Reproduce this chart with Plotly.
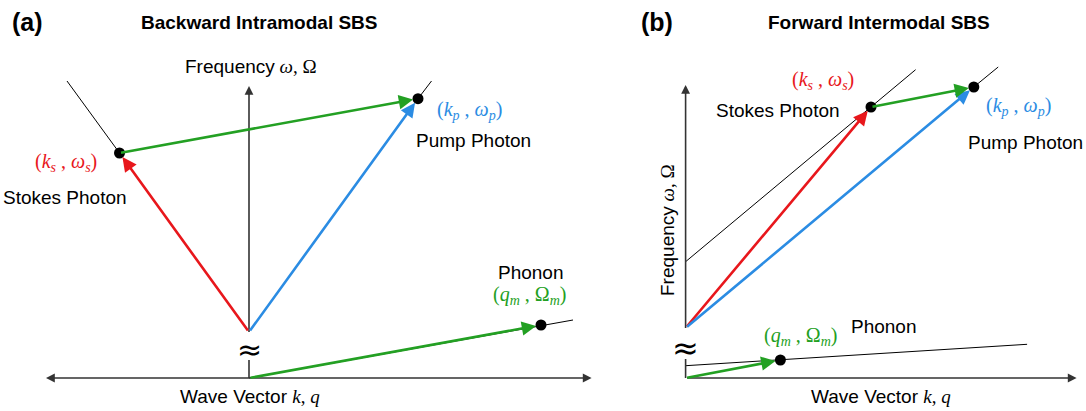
import plotly.graph_objects as go

# ---------------- data (abstract k / omega units) ----------------
# Panel (a): backward intramodal SBS
a_photon_origin = [0, 46]
a_stokes = [-129.5, 225]
a_pump = [169, 279.3]
a_stokes_branch_end = [-182, 297]
a_pump_branch_end = [182.5, 297]
a_phonon = [292, 53]
a_phonon_branch_end = [324, 58]
a_k_axis = [-204.5, 342.6]
a_w_axis_top = 292
a_break = [18, 46]

# Panel (b): forward intermodal SBS
b_photon_origin = [0, 50]
b_stokes = [185.4, 271]
b_pump = [288.2, 291]
b_stokes_branch = [[0, 116.3], [230, 308.3]]
b_pump_branch_end = [312.6, 311]
b_phonon_branch = [[0, 12.3], [341.5, 33.7]]
b_phonon = [94.8, 18]
b_k_axis = [0, 391]
b_w_axis_top = 293
b_break = [19, 50]

RED = "#e8171c"
BLUE = "#2b8ce3"
GREEN = "#23a023"
AX = "#333333"
SANS = "Liberation Sans, Arial, sans-serif"
SERIF = "Liberation Serif, Times New Roman, serif"

W, H = 1086, 411

fig = go.Figure()

def line(xs, ys, ax, color="black", width=1.0):
    fig.add_trace(go.Scatter(x=xs, y=ys, mode="lines", xaxis=ax[0], yaxis=ax[1],
                             line=dict(color=color, width=width), hoverinfo="skip",
                             showlegend=False))

def dots(pts, ax):
    fig.add_trace(go.Scatter(x=[p[0] for p in pts], y=[p[1] for p in pts], mode="markers",
                             xaxis=ax[0], yaxis=ax[1], marker=dict(color="black", size=11),
                             hoverinfo="skip", showlegend=False, cliponaxis=False))

annotations = []

def arrow(tail, head, ax, color, width=2.6, standoff=5, size=1.1, side="end", head_style=2):
    annotations.append(dict(x=head[0], y=head[1], ax=tail[0], ay=tail[1],
                            xref=ax[0], yref=ax[1], axref=ax[0], ayref=ax[1],
                            showarrow=True, arrowhead=head_style, arrowsize=size,
                            arrowwidth=width, arrowcolor=color, standoff=standoff,
                            startstandoff=0, arrowside=side, text=""))

def label(x, y, text, ax, color="black", size=19, family=SANS, angle=0):
    annotations.append(dict(x=x, y=y, xref=ax[0], yref=ax[1], text=text, showarrow=False,
                            font=dict(color=color, size=size, family=family),
                            xanchor="center", yanchor="middle", textangle=angle))

def math(sym1, sub1, sym2, sub2, italic2=True):
    s2 = f"<i>{sym2}</i>" if italic2 else sym2
    return f"(<i>{sym1}<sub>{sub1}</sub></i> , {s2}<sub><i>{sub2}</i></sub>)"

A = ("x", "y")
B = ("x2", "y2")

FREQ = "Frequency" + f"<span style='font-family:{SERIF}'> <i>ω</i>, Ω</span>"
WAVE = "Wave Vector " + f"<span style='font-family:{SERIF}'><i>k</i>, <i>q</i></span>"

# ---------- panel (a) ----------
line([a_stokes[0], a_stokes_branch_end[0]], [a_stokes[1], a_stokes_branch_end[1]], A)
line([a_pump[0], a_pump_branch_end[0]], [a_pump[1], a_pump_branch_end[1]], A)
line([0, a_phonon_branch_end[0]], [0, a_phonon_branch_end[1]], A)
line([0, 0], [0, a_break[0]], A, AX, 1.6)
line([0, 0], [a_break[1], a_w_axis_top - 4], A, AX, 1.6)
arrow([0, a_w_axis_top - 10], [0, a_w_axis_top], A, AX, width=1.6, standoff=0, size=1.1)
arrow([a_k_axis[0], 0], [a_k_axis[1], 0], A, AX, width=1.6, standoff=0, size=1.1, side="end+start")
arrow(a_photon_origin, a_stokes, A, RED)
arrow(a_photon_origin, a_pump, A, BLUE)
arrow(a_stokes, a_pump, A, GREEN)
arrow([0, 0], a_phonon, A, GREEN)
dots([a_stokes, a_pump, a_phonon], A)

label(2, 312, FREQ, A)
label(-183, 216, math("k", "s", "ω", "s"), A, RED, 20, SERIF)
label(-184, 181, "Stokes Photon", A)
label(220, 268, math("k", "p", "ω", "p"), A, BLUE, 20, SERIF)
label(224, 238, "Pump Photon", A)
label(282, 106, "Phonon", A)
label(280, 83, math("q", "m", "Ω", "m", italic2=False), A, GREEN, 20, SERIF)
label(1, -18, WAVE, A)
label(0, 29, "≈", A, "black", 30, "DejaVu Sans")

# ---------- panel (b) ----------
line([p[0] for p in b_stokes_branch], [p[1] for p in b_stokes_branch], B)
line([b_pump[0], b_pump_branch_end[0]], [b_pump[1], b_pump_branch_end[1]], B)
line([p[0] for p in b_phonon_branch], [p[1] for p in b_phonon_branch], B)
line([0, 0], [0, b_break[0]], B, AX, 1.6)
line([0, 0], [b_break[1], b_w_axis_top - 4], B, AX, 1.6)
arrow([0, b_w_axis_top - 10], [0, b_w_axis_top], B, AX, width=1.6, standoff=0, size=1.1)
arrow([b_k_axis[0], 0], [b_k_axis[1], 0], B, AX, width=1.6, standoff=0, size=1.1)
arrow(b_photon_origin, b_stokes, B, RED)
arrow(b_photon_origin, b_pump, B, BLUE)
arrow(b_stokes, b_pump, B, GREEN)
arrow([0, 0], b_phonon, B, GREEN)
dots([b_stokes, b_pump, b_phonon], B)

label(-18.6, 148, FREQ, B, angle=-90)
label(137.4, 298, math("k", "s", "ω", "s"), B, RED, 20, SERIF)
label(92, 268, "Stokes Photon", B)
label(333, 272, math("k", "p", "ω", "p"), B, BLUE, 20, SERIF)
label(339.4, 236, "Pump Photon", B)
label(115, 42, math("q", "m", "Ω", "m", italic2=False), B, GREEN, 20, SERIF)
label(198.4, 52, "Phonon", B)
label(195.4, -18, WAVE, B)
label(0, 30, "≈", B, "black", 32, "DejaVu Sans")

# panel letters and titles
for txt, px, size in [("<b>(a)</b>", 27, 25), ("<b>(b)</b>", 657, 25),
                      ("<b>Backward Intramodal SBS</b>", 259, 19),
                      ("<b>Forward Intermodal SBS</b>", 879, 19)]:
    annotations.append(dict(x=px / W, y=1 - 22 / H, xref="paper", yref="paper", text=txt,
                            showarrow=False, xanchor="center", yanchor="middle",
                            font=dict(size=size, family=SANS, color="black")))

hidden = dict(visible=False, fixedrange=True)
fig.update_layout(
    width=W, height=H, margin=dict(l=0, r=0, t=0, b=0),
    paper_bgcolor="white", plot_bgcolor="rgba(0,0,0,0)",
    xaxis=dict(range=[-249, W - 249], domain=[0, 1], **hidden),
    yaxis=dict(range=[-33, 378], domain=[0, 1], **hidden),
    xaxis2=dict(range=[-685.6, W - 685.6], overlaying="x", **hidden),
    yaxis2=dict(range=[-33, 378], overlaying="y", **hidden),
    annotations=annotations,
    showlegend=False,
)

fig.write_html("out.html")
